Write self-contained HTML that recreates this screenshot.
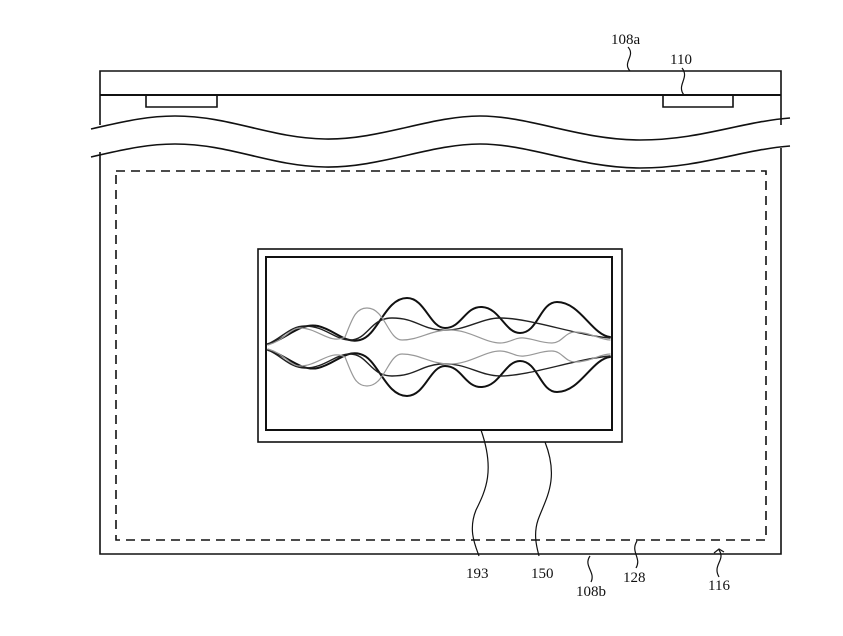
<!DOCTYPE html>
<html><head><meta charset="utf-8"><style>
html,body{margin:0;padding:0;background:#fff}
svg{display:block}
text{font-family:"Liberation Serif",serif;font-size:15px;fill:#111}
</style></head><body>
<svg width="843" height="636" viewBox="0 0 843 636" xmlns="http://www.w3.org/2000/svg">
<g fill="none" stroke="#111" stroke-width="1.6">
<!-- top part -->
<path d="M100,125 V71 H781 V125"/>
<line x1="100" y1="95" x2="781" y2="95" stroke-width="2"/>
<path d="M146,95 V107 H217 V95"/>
<path d="M663,95 V107 H733 V95"/>
<!-- wavy break lines -->
<path d="M91,129 C130,120 150,116 175,116 C230,116 270,138 325,139 C380,140 430,116 480,116 C530,116 580,140 640,140 C700,140 740,122 790,118"/>
<path d="M91,157 C130,148 150,144 175,144 C230,144 270,166 325,167 C380,168 430,144 480,144 C530,144 580,168 640,168 C700,168 740,150 790,146"/>
<!-- lower body -->
<path d="M100,152 V554 H781 V148"/>
<rect x="116" y="171" width="650" height="369" stroke-dasharray="9,6"/>
<rect x="258" y="249" width="364" height="193"/>
<rect x="266" y="257" width="346" height="173" stroke-width="2"/>
<!-- leaders -->
<path d="M481,430 C495,470 486,490 476,510 C468,530 475,545 479,556" stroke-width="1.2"/>
<path d="M545,442 C560,480 545,500 538,520 C533,535 537,548 539,556" stroke-width="1.2"/>
<path d="M590,556 C583,566 596,572 591,582" stroke-width="1.2"/>
<path d="M637,541 C630,552 642,558 636,568" stroke-width="1.2"/>
<path d="M719,577 C712,565 726,560 719,550 M714,553 L719,549 L724,552" stroke-width="1.2"/>
<path d="M630,71 C622,62 636,56 628,47" stroke-width="1.2"/>
<path d="M684,95 C676,85 690,78 682,68" stroke-width="1.2"/>
</g>
<!-- waveforms -->
<g fill="none" stroke-linecap="round">
<g id="up">
<path d="M268,344 C285,340 300,322 318,326 C335,330 345,344 360,340 C378,336 385,298 407,298 C425,298 430,328 445,328 C462,328 465,306 482,307 C500,308 505,333 520,333 C538,333 540,302 557,302 C580,302 592,335 610,337" stroke="#111" stroke-width="2"/>
<path d="M268,344 C282,338 290,326 305,326 C325,326 335,340 350,340 C368,340 370,318 392,318 C415,318 420,328 440,330 C465,332 480,318 500,318 C530,318 575,335 610,338" stroke="#222" stroke-width="1.4"/>
<path d="M268,345 C285,340 290,328 300,328 C318,328 330,345 345,337 C352,320 355,308 367,308 C385,308 388,340 402,340 C420,340 430,330 450,330 C470,330 485,343 500,343 C510,343 515,337 524,338 C535,339 540,343 552,343 C562,343 565,332 575,332 C590,332 600,340 610,340" stroke="#999" stroke-width="1.2"/>
</g>
<g transform="translate(0,694) scale(1,-1)">
<path d="M268,344 C285,340 300,322 318,326 C335,330 345,344 360,340 C378,336 385,298 407,298 C425,298 430,328 445,328 C462,328 465,306 482,307 C500,308 505,333 520,333 C538,333 540,302 557,302 C580,302 592,335 610,337" stroke="#111" stroke-width="2"/>
<path d="M268,344 C282,338 290,326 305,326 C325,326 335,340 350,340 C368,340 370,318 392,318 C415,318 420,328 440,330 C465,332 480,318 500,318 C530,318 575,335 610,338" stroke="#222" stroke-width="1.4"/>
<path d="M268,345 C285,340 290,328 300,328 C318,328 330,345 345,337 C352,320 355,308 367,308 C385,308 388,340 402,340 C420,340 430,330 450,330 C470,330 485,343 500,343 C510,343 515,337 524,338 C535,339 540,343 552,343 C562,343 565,332 575,332 C590,332 600,340 610,340" stroke="#999" stroke-width="1.2"/>
</g>
</g>
<text x="611" y="44">108a</text>
<text x="670" y="64">110</text>
<text x="466" y="578">193</text>
<text x="531" y="578">150</text>
<text x="576" y="596">108b</text>
<text x="623" y="582">128</text>
<text x="708" y="590">116</text>
</svg>
</body></html>
